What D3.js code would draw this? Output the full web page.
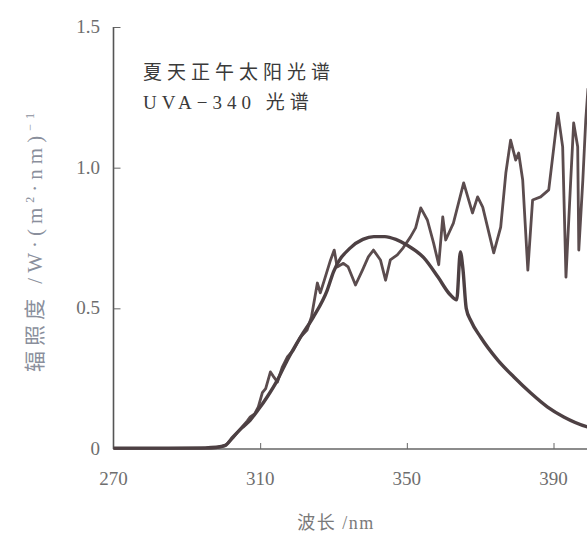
<!DOCTYPE html>
<html>
<head>
<meta charset="utf-8">
<script src="https://cdn.jsdelivr.net/npm/d3@7"></script>
<style>
html,body{margin:0;padding:0;background:#fff;}
svg{display:block;}
</style>
</head>
<body>
<svg id="chart" width="587" height="535"></svg>
<script>
// ---- data ----
const xTicks = [270, 310, 350, 390];
const yTicks = [0, 0.5, 1.0, 1.5];
const yTickLabels = ["0", "0.5", "1.0", "1.5"];
const legendLabels = ["夏天正午太阳光谱", "UVA\u2212340 光谱"];

const sunNm  = [270, 285, 294, 298, 300.5, 302.6, 304.5, 306.5, 307.3, 308.5, 309.5, 310.6, 311.5, 312.8, 313.5, 314.7, 316, 317.4, 319, 321, 322.8, 324, 325.6, 326.4, 327.5, 329.2, 330.2, 331, 332.7, 334, 336, 337.9, 339.5, 340.9, 342.8, 344.2, 345.5, 347.4, 349, 351, 352.4, 353.8, 355.6, 357.3, 358.7, 359.8, 360.6, 362.7, 365.5, 367.9, 369.3, 370.7, 373.7, 375.6, 377, 378.3, 379.7, 380.5, 381.6, 383, 384.3, 386.5, 388.7, 390.1, 391.2, 392.5, 393.4, 394.7, 395.5, 396.6, 396.9, 398, 398.8, 399.4, 401];
const sunVal = [0.002, 0.002, 0.002, 0.004, 0.012, 0.04, 0.07, 0.1, 0.114, 0.125, 0.15, 0.2, 0.215, 0.274, 0.26, 0.238, 0.29, 0.327, 0.35, 0.398, 0.423, 0.47, 0.59, 0.555, 0.6, 0.672, 0.707, 0.647, 0.66, 0.647, 0.583, 0.636, 0.683, 0.707, 0.672, 0.6, 0.672, 0.69, 0.715, 0.754, 0.786, 0.857, 0.814, 0.732, 0.655, 0.825, 0.743, 0.803, 0.946, 0.839, 0.896, 0.86, 0.697, 0.789, 0.981, 1.098, 1.027, 1.052, 0.956, 0.636, 0.885, 0.896, 0.921, 1.074, 1.194, 1.074, 0.611, 0.956, 1.159, 1.074, 0.707, 0.956, 1.17, 1.28, 1.32];

const uvaNm  = [270, 285, 295, 298, 300.5, 302.6, 305, 307.3, 309.5, 311.9, 314.7, 317.4, 321, 324.5, 328.3, 330, 334.6, 338, 341, 344, 347, 350, 354.6, 358.5, 361.7, 363.6, 364.6, 365.3, 366.2, 367.5, 370.1, 374.8, 379.2, 383.8, 388.4, 392.8, 399.4, 402];
const uvaVal = [0.003, 0.003, 0.004, 0.006, 0.013, 0.043, 0.075, 0.103, 0.14, 0.185, 0.245, 0.316, 0.398, 0.469, 0.565, 0.63, 0.715, 0.745, 0.755, 0.755, 0.745, 0.725, 0.68, 0.611, 0.55, 0.53, 0.70, 0.64, 0.5, 0.455, 0.398, 0.316, 0.256, 0.199, 0.149, 0.114, 0.078, 0.07];

// ---- layout ----
const svg = d3.select("#chart");
const x = d3.scaleLinear().domain([270, 390]).range([113.5, 553.5]);
const y = d3.scaleLinear().domain([0, 1.5]).range([449, 27]);

const serif = "'Liberation Serif','DejaVu Serif','Noto Sans CJK SC',serif";
const cjk = "'Liberation Serif','Noto Sans CJK SC',serif";

// axes
const xAxis = d3.axisBottom(x).tickValues(xTicks).tickSize(-6).tickFormat("");
const gx = svg.append("g").attr("transform", "translate(0,449)").call(xAxis);
gx.select(".domain").attr("d", "M113.5,0H587");
gx.selectAll("path,line").attr("stroke", "#666");
gx.selectAll(".tick line").attr("stroke-width", 1).filter(d => d === 270).remove();
gx.select(".domain").attr("stroke-width", 1.6);

const yAxis = d3.axisLeft(y).tickValues(yTicks).tickSize(-7).tickFormat("");
const gy = svg.append("g").attr("transform", "translate(113.5,0)").call(yAxis);
gy.select(".domain").attr("d", "M0,27V449").attr("stroke", "#555").attr("stroke-width", 1.6);
gy.selectAll(".tick line").attr("stroke", "#666").attr("stroke-width", 1)
  .filter(d => d === 0).remove();

// tick labels
svg.append("g").selectAll("text").data(xTicks).join("text")
  .attr("x", d => x(d)).attr("y", 485)
  .attr("text-anchor", "middle")
  .attr("font-family", serif).attr("font-size", 19).attr("fill", "#6e6e6e")
  .text(d => d);
svg.append("g").selectAll("text").data(yTicks).join("text")
  .attr("x", 100).attr("y", (d) => y(d) + 6)
  .attr("text-anchor", "end")
  .attr("font-family", serif).attr("font-size", 19).attr("fill", "#6e6e6e")
  .text((d, i) => yTickLabels[i]);

// axis titles
svg.append("text").attr("x", 336).attr("y", 529).attr("text-anchor", "middle")
  .attr("font-family", cjk).attr("font-size", 18).attr("letter-spacing", 1.5).attr("fill", "#7a7a7a")
  .text("波长 /nm");

const yt = svg.append("text")
  .attr("transform", "translate(42,240) rotate(-90)")
  .attr("text-anchor", "middle")
  .attr("font-family", cjk).attr("font-size", 21).attr("letter-spacing", 5).attr("fill", "#8a8f9c");
yt.append("tspan").text("辐照度 /W·(m");
yt.append("tspan").attr("font-size", 12).attr("dy", -8).text("2");
yt.append("tspan").attr("dy", 8).text("·nm)");
yt.append("tspan").attr("font-size", 12).attr("dy", -8).text("\u22121");

// lines
const sun = sunNm.map((d, i) => ({x: d, y: sunVal[i]}));
const uva = uvaNm.map((d, i) => ({x: d, y: uvaVal[i]}));
svg.append("defs").append("clipPath").attr("id", "clip")
  .append("rect").attr("x", 113).attr("y", 0).attr("width", 474).attr("height", 450);

const plot = svg.append("g").attr("clip-path", "url(#clip)");
plot.append("path").datum(sun)
  .attr("d", d3.line().x(d => x(d.x)).y(d => y(d.y)).curve(d3.curveLinear))
  .attr("fill", "none").attr("stroke", "#5b4c4e").attr("stroke-width", 2.8)
  .attr("stroke-linejoin", "round");
plot.append("path").datum(uva)
  .attr("d", d3.line().x(d => x(d.x)).y(d => y(d.y)).curve(d3.curveMonotoneX))
  .attr("fill", "none").attr("stroke", "#4d4043").attr("stroke-width", 3.4)
  .attr("stroke-linejoin", "round");

// legend
svg.append("g").selectAll("text").data(legendLabels).join("text")
  .attr("x", 143).attr("y", (d, i) => 79 + i * 30)
  .attr("font-family", cjk).attr("font-size", 19).attr("letter-spacing", 5)
  .attr("fill", "#3a3a3a")
  .text(d => d);
</script>
</body>
</html>
